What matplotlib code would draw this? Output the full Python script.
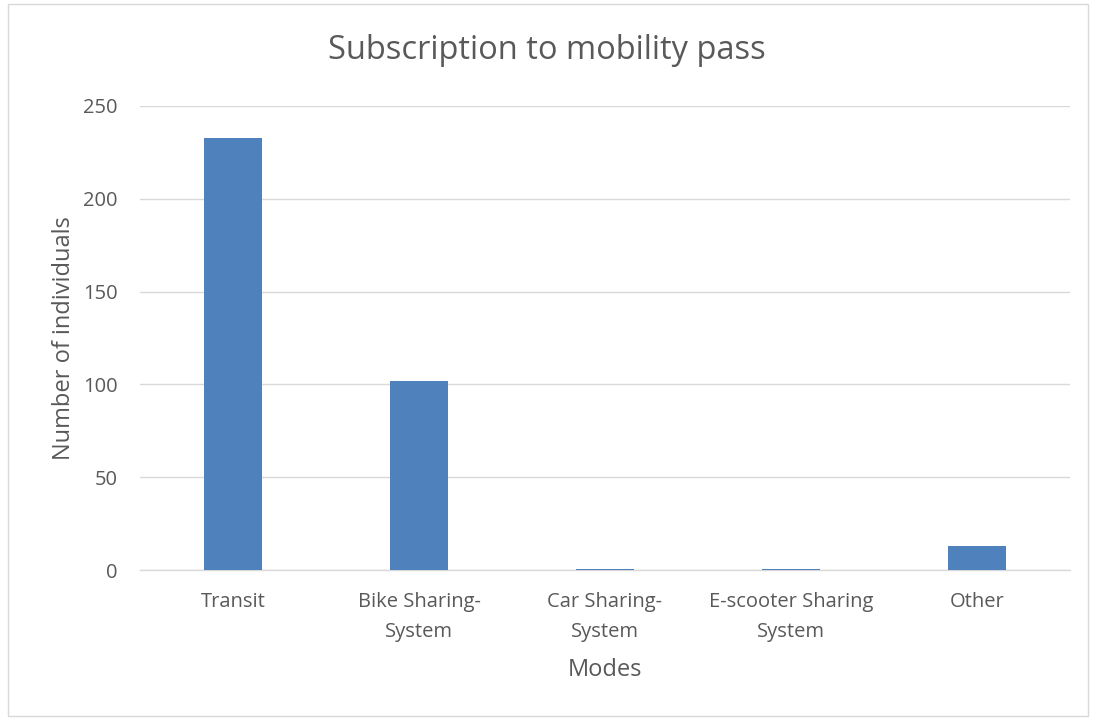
import matplotlib.pyplot as plt
from matplotlib.patches import Rectangle

modes = ['Transit', 'Bike Sharing-\nSystem', 'Car Sharing-\nSystem', 'E-scooter Sharing\nSystem', 'Other']
individuals = [233, 102, 0.6, 0.6, 13]
yticks = [0, 50, 100, 150, 200, 250]

txt = '#595959'
plt.rcParams['font.family'] = ['Open Sans', 'DejaVu Sans']

fig = plt.figure(figsize=(10.93, 7.2), dpi=100)
ax = fig.add_axes([0.128, 0.2083, 0.851, 0.6445])

x = range(len(modes))
ax.bar(x, individuals, width=0.31, color='#4F81BD', zorder=3)

ax.set_xlim(-0.5, len(modes) - 0.5)
ax.set_ylim(0, 250)
ax.set_yticks(yticks)
ax.set_xticks(list(x))
ax.set_xticklabels(modes, fontsize=14.5, color=txt, linespacing=1.62)
ax.tick_params(axis='y', labelsize=14.5, colors=txt, length=0, pad=16)
ax.tick_params(axis='x', length=0, pad=16)
ax.grid(axis='y', color='#D9D9D9', linewidth=1, zorder=0)
for s in ['top', 'right', 'left']:
    ax.spines[s].set_visible(False)
ax.spines['bottom'].set_color('#D9D9D9')
ax.spines['bottom'].set_linewidth(1)

ax.set_xlabel('Modes', fontsize=17, color=txt, labelpad=12)
ax.set_ylabel('Number of individuals', fontsize=17, color=txt, labelpad=5)
fig.text(0.5, 0.93, 'Subscription to mobility pass', ha='center', va='center',
         fontsize=23.5, color=txt)

fig.patches.append(Rectangle((8 / 1093, 4 / 720), 1080 / 1093, 712 / 720,
                             transform=fig.transFigure, fill=False,
                             edgecolor='#D9D9D9', linewidth=1))

fig.savefig('out.png', dpi=100)
